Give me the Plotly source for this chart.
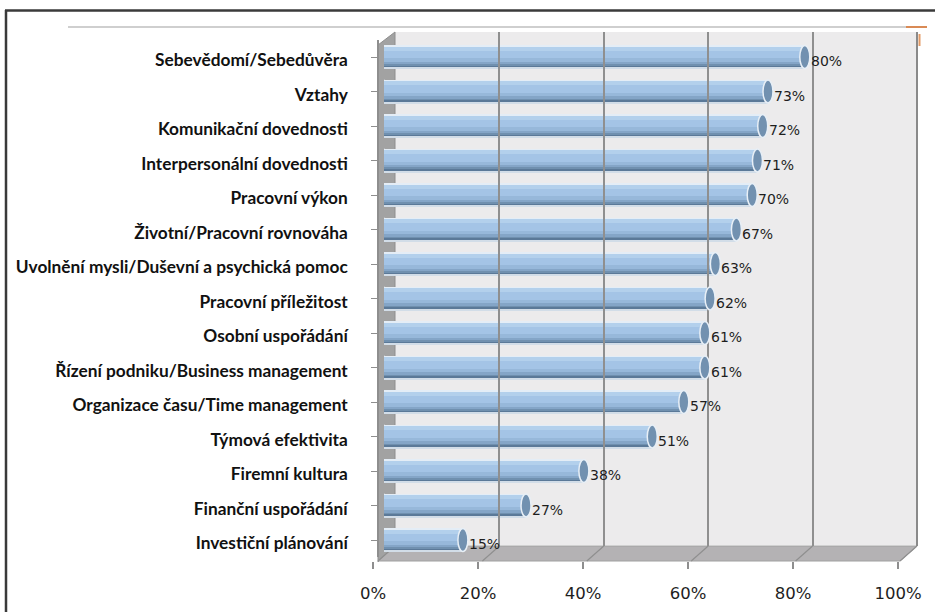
import plotly.graph_objects as go

# Survey results: share of respondents reporting improvement per area
categories = [
    "Sebevědomí/Sebedůvěra",
    "Vztahy",
    "Komunikační dovednosti",
    "Interpersonální dovednosti",
    "Pracovní výkon",
    "Životní/Pracovní rovnováha",
    "Uvolnění mysli/Duševní a psychická pomoc",
    "Pracovní příležitost",
    "Osobní uspořádání",
    "Řízení podniku/Business management",
    "Organizace času/Time management",
    "Týmová efektivita",
    "Firemní kultura",
    "Finanční uspořádání",
    "Investiční plánování",
]
values = [80, 73, 72, 71, 70, 67, 63, 62, 61, 61, 57, 51, 38, 27, 15]
tick_values = [0, 20, 40, 60, 80, 100]
tick_labels = [f"{t}%" for t in tick_values]

W, H = 935, 612


def px(x):
    return x / W


def py(y):
    return 1 - y / H


n = len(categories)
idx = list(range(n))

fig = go.Figure()

# cylinder shading: horizontal bands stacked across each bar's thickness
row_px = 34.5
bands = [  # (start px from bar top, height px, colour)
    (0, 1.2, "#e4edf6"),
    (1.2, 4, "#b3d0ec"),
    (5.2, 7.5, "#a4c4e6"),
    (12.7, 3.5, "#97b8da"),
    (16.2, 2.5, "#84a5c7"),
    (18.7, 2, "#7090af"),
    (20.7, 1.4, "#5b7998"),
    (22.1, 0.9, "#d2dde8"),
]
bar_px = 23.0
for start, h, col in bands:
    fig.add_trace(go.Bar(
        x=values, y=idx, orientation="h",
        offset=(start - bar_px / 2) / row_px, width=h / row_px,
        marker=dict(color=col, line=dict(width=0)),
        hoverinfo="skip", showlegend=False, xaxis="x", yaxis="y",
    ))

# invisible traces so the front and back axes are drawn
fig.add_trace(go.Scatter(x=[0, 100], y=[0, 1], mode="markers", marker=dict(opacity=0),
                         xaxis="x2", yaxis="y2", hoverinfo="skip", showlegend=False))
fig.add_trace(go.Scatter(x=[0, 100], y=[0, 1], mode="markers", marker=dict(opacity=0),
                         xaxis="x3", yaxis="y3", hoverinfo="skip", showlegend=False))

shapes = []
# back wall, left wall, floor
shapes.append(dict(type="rect", xref="paper", yref="paper", x0=px(395), x1=px(917),
                   y0=py(545), y1=py(32), fillcolor="#ecebec", line=dict(width=0), layer="below"))
shapes.append(dict(type="path", xref="paper", yref="paper",
                   path=f"M {px(378)} {py(562)} L {px(378)} {py(45)} L {px(395)} {py(32)} L {px(395)} {py(545)} Z",
                   fillcolor="#a2a2a2", line=dict(color="#8e8e8e", width=1), layer="below"))
shapes.append(dict(type="path", xref="paper", yref="paper",
                   path=f"M {px(378)} {py(561)} L {px(900)} {py(561)} L {px(917)} {py(546)} L {px(395)} {py(546)} Z",
                   fillcolor="#b4b2b4", line=dict(color="#a0a0a0", width=1), layer="below"))
# floor diagonals joining back gridlines to front ticks
for t in tick_values:
    xb = 395 + (917 - 395) * t / 100
    xf = 378 + (900 - 378) * t / 100
    shapes.append(dict(type="line", xref="paper", yref="paper", x0=px(xb), y0=py(546),
                       x1=px(xf), y1=py(561), line=dict(color="#8f8f8f", width=1.2), layer="below"))
# right edge of back wall
shapes.append(dict(type="line", xref="paper", yref="paper", x0=px(917), x1=px(917),
                   y0=py(546), y1=py(32), line=dict(color="#8a8a8a", width=2), layer="below"))

# rounded left ends of the cylinders
for i in idx:
    shapes.append(dict(type="circle", xref="x", yref="y", x0=-0.9, x1=0.9,
                       y0=i - bar_px / 2 / row_px, y1=i + bar_px / 2 / row_px,
                       fillcolor="#a3c3e4", line=dict(color="#e0e9f2", width=1), layer="below"))
# end caps at the value of each bar
for i, v in zip(idx, values):
    shapes.append(dict(type="circle", xref="x", yref="y", x0=v - 0.95, x1=v + 0.95,
                       y0=i - bar_px / 2 / row_px, y1=i + bar_px / 2 / row_px,
                       fillcolor="#7291b0", line=dict(color="#e8eff6", width=1.5), layer="above"))

# frame and header rule
shapes.append(dict(type="line", xref="paper", yref="paper", x0=px(5), x1=1, y0=py(10.5), y1=py(10.5),
                   line=dict(color="#3a3a3a", width=2.5)))
shapes.append(dict(type="line", xref="paper", yref="paper", x0=px(6), x1=px(6), y0=py(10), y1=0,
                   line=dict(color="#3a3a3a", width=2.5)))
shapes.append(dict(type="line", xref="paper", yref="paper", x0=px(68), x1=px(906), y0=py(27), y1=py(27),
                   line=dict(color="#cfcfcf", width=2)))
shapes.append(dict(type="line", xref="paper", yref="paper", x0=px(906), x1=px(927), y0=py(27), y1=py(27),
                   line=dict(color="#d98a55", width=2)))
shapes.append(dict(type="line", xref="paper", yref="paper", x0=px(919.5), x1=px(919.5), y0=py(34), y1=py(46),
                   line=dict(color="#e39a66", width=2)))

annotations = []
for i, v in zip(idx, values):
    annotations.append(dict(x=v, y=i, xref="x", yref="y", text=f"{v}%", showarrow=False,
                            xanchor="left", xshift=4, yshift=-4,
                            font=dict(family="DejaVu Sans", size=14, color="#1e1e1e")))

y_bottom = 540 + row_px / 2
y_top = 57 - row_px / 2

fig.update_layout(
    width=W, height=H, autosize=False,
    margin=dict(l=0, r=0, t=0, b=0, pad=0, autoexpand=False),
    paper_bgcolor="white", plot_bgcolor="rgba(0,0,0,0)",
    barmode="overlay", bargap=0,
    shapes=shapes, annotations=annotations,
    xaxis=dict(domain=[px(384), px(910)], range=[0, 100], showgrid=False, zeroline=False,
               showticklabels=False, showline=False, fixedrange=True, automargin=False),
    yaxis=dict(domain=[py(y_bottom), py(y_top)], range=[n - 0.5, -0.5],
               tickvals=idx, ticktext=categories, anchor="free", position=px(378),
               showgrid=False, zeroline=False, showline=True, linecolor="#8e8e8e", linewidth=1.5,
               ticks="outside", ticklen=6, tickcolor="#8e8e8e", tickson="boundaries",
               ticklabelstandoff=20, ticklabelshift=-3, automargin=False,
               tickfont=dict(family="Lato", size=17.3, color="#111111", weight="bold")),
    xaxis2=dict(domain=[px(373), px(898)], range=[0, 100], anchor="free", position=py(561),
                tickvals=tick_values, ticktext=tick_labels, showgrid=False, zeroline=False,
                showline=False, ticks="outside", ticklen=7, tickcolor="#8e8e8e", tickwidth=1.5,
                ticklabelstandoff=10, automargin=False,
                tickfont=dict(family="DejaVu Sans", size=16.5, color="#1e1e1e")),
    yaxis2=dict(domain=[0, 1], range=[0, 1], visible=False, anchor="x2", automargin=False),
    xaxis3=dict(domain=[px(395), px(917)], range=[0, 100], anchor="y3", tickvals=tick_values,
                showgrid=True, gridcolor="#8f8f8f", gridwidth=1.5, zeroline=False,
                showticklabels=False, showline=False, ticks="", automargin=False),
    yaxis3=dict(domain=[py(546), py(32)], range=[0, 1], visible=False, anchor="x3", automargin=False),
)

fig.write_html("out.html")
